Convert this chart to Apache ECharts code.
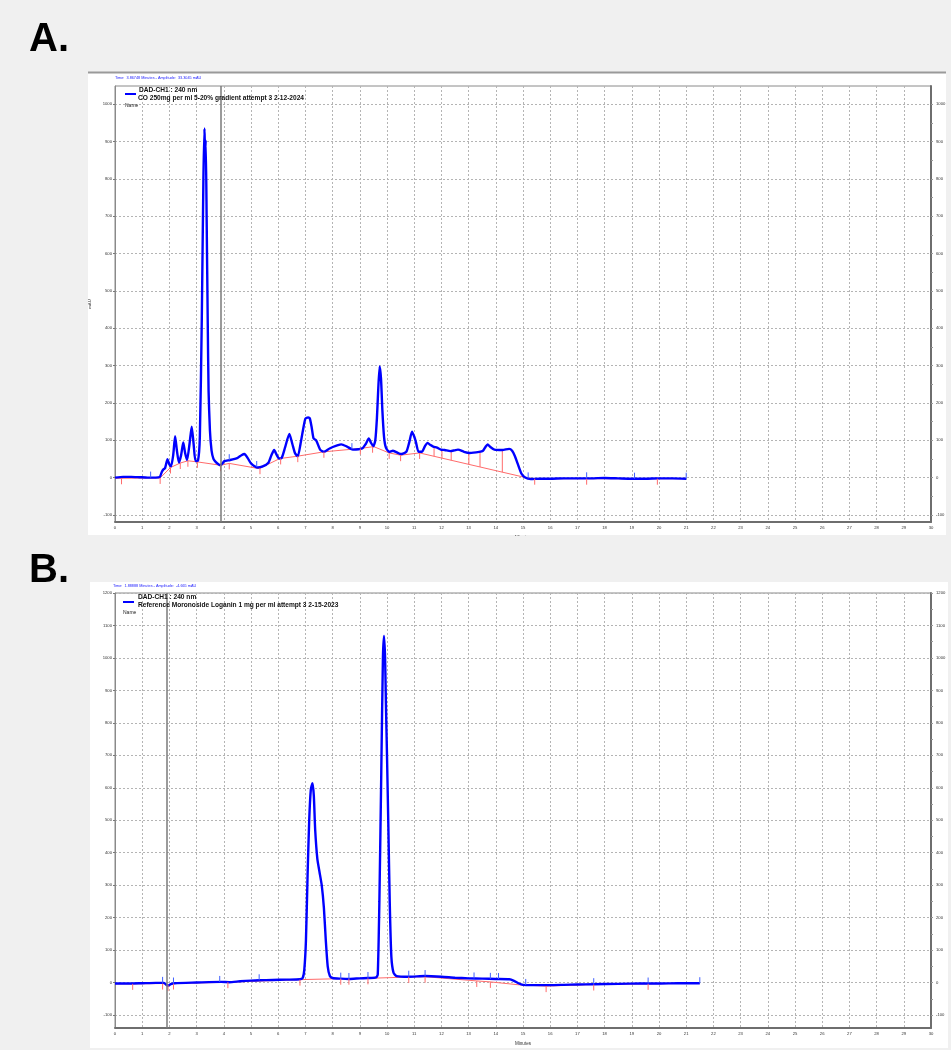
<!DOCTYPE html>
<html><head><meta charset="utf-8">
<script src="https://cdn.jsdelivr.net/npm/echarts@6/dist/echarts.min.js"></script>
<style>html,body{margin:0;padding:0;background:#f0f0f0}#c{width:951px;height:1050px}</style>
</head><body><div id="c"></div>
<script>
// ---------- data ----------
const xTickLabels = [0,1,2,3,4,5,6,7,8,9,10,11,12,13,14,15,16,17,18,19,20,21,22,23,24,25,26,27,28,29,30];
const yTicksA = [-100,0,100,200,300,400,500,600,700,800,900,1000];
const yTicksB = [-100,0,100,200,300,400,500,600,700,800,900,1000,1100,1200];

// Panel A: trace (minutes, mAU)
const aTime = [0,0.3,0.6,0.9,1.2,1.5,1.65,1.72,1.78,1.84,1.93,2.0,2.06,2.14,2.21,2.28,2.35,2.43,2.51,2.58,2.65,2.74,2.82,2.89,2.96,3.05,3.12,3.19,3.25,3.29,3.31,3.335,3.37,3.41,3.44,3.49,3.55,3.62,3.70,3.80,3.88,3.95,4.02,4.23,4.51,4.65,4.76,4.88,5.0,5.24,5.43,5.64,5.75,5.85,5.95,6.03,6.13,6.25,6.41,6.52,6.62,6.72,6.82,6.91,7.0,7.1,7.16,7.23,7.30,7.40,7.54,7.68,7.89,8.17,8.32,8.53,8.74,9.09,9.22,9.33,9.42,9.50,9.57,9.63,9.68,9.73,9.78,9.83,9.89,9.96,10.08,10.22,10.5,10.71,10.82,10.92,11.0,11.06,11.16,11.28,11.40,11.49,11.60,11.70,11.84,11.98,12.12,12.33,12.48,12.61,12.83,13.04,13.39,13.53,13.62,13.70,13.80,13.95,14.24,14.49,14.60,14.70,14.80,14.94,15.08,15.29,15.6,16.0,16.5,17.0,17.5,18.0,18.5,19.0,19.5,20.0,20.5,21.0];
const aMau  = [0,2,2,1,0,0,2,15,22,25,49,35,30,60,111,70,40,60,94,65,47,90,136,90,44,45,110,420,800,935,870,905,690,413,233,126,72,50,42,36,33,38,44,47,53,60,63,52,38,27,30,40,60,74,60,51,53,80,117,90,65,57,90,127,158,161,159,135,105,99,75,69,78,86,89,83,75,78,90,105,92,84,100,160,240,298,265,180,110,80,69,72,63,69,95,123,110,96,69,69,85,93,87,83,80,75,74,71,73,75,69,66,69,72,82,89,82,75,74,77,72,58,38,11,0,-4,-3,-3,-2,-2,-2,-1,-2,-3,-3,-2,-2,-3];
// Panel A: integration baseline
const aBaseTime = [0,1.66,2.04,2.40,2.68,3.03,3.88,4.20,5.30,6.06,6.69,7.68,9.02,9.51,10.08,10.5,11.2,15.1,15.4,21.0];
const aBaseMau  = [-2,-1,27,39,45,42,33,38,24,51,57,69,78,83,66,60,66,0,-3,-3];
const aDropTimes = [11.73,12.02,12.36,13.01,13.42,14.24];
const aRedTicks  = [0.24,1.66,2.04,2.40,2.68,3.03,3.88,4.20,5.33,6.09,6.72,7.68,9.02,9.47,10.08,10.5,11.2,15.43,17.34,19.94];
const aBlueTicks = [1.31,4.20,5.21,8.71,15.19,17.34,19.1,21.0];
const aCursor = 3.86748;

// Panel B: trace
const bTime = [0,0.5,1.0,1.5,1.8,1.9,1.95,2.05,2.2,3.0,3.9,4.2,4.6,5.0,5.3,5.8,6.3,6.8,6.9,6.96,7.02,7.08,7.14,7.20,7.26,7.31,7.36,7.44,7.52,7.60,7.68,7.75,7.82,7.90,8.0,8.3,8.6,9.0,9.3,9.6,9.66,9.72,9.79,9.85,9.89,9.93,9.96,10.0,10.05,10.10,10.16,10.24,10.35,10.8,11.4,12.0,12.5,13.0,13.5,14.0,14.5,14.65,14.85,15.0,15.3,16.0,16.5,17.0,17.6,18.5,19.3,20.0,20.7,21.5];
const bMau  = [-3,-3,-2,-1,-1,-8,-10,-5,-2,0,2,1,4,6,7,8,9,10,14,40,130,330,500,595,614,575,470,380,340,300,230,130,50,20,14,12,11,13,14,16,25,250,650,1000,1068,1000,860,700,480,250,80,30,20,18,20,18,15,13,12,11,10,6,-3,-7,-8,-8,-7,-6,-5,-4,-3,-3,-2,-2];
const bBaseTime = [0,0.65,1.75,1.95,2.15,4.15,6.8,8.3,8.6,9.3,10.8,11.4,13.3,13.8,14.85,15.85,17.6,19.6,21.5];
const bBaseMau  = [-4,-4,-3,-8,-3,1,9,12,12,13,17,18,5,2,-7,-11,-6,-4,-2];
const bRedTicks  = [0.65,1.75,1.95,2.15,4.15,6.8,8.3,8.6,9.3,10.8,11.4,13.3,13.8,15.85,17.6,19.6];
const bBlueTicks = [1.75,2.15,3.85,5.3,8.3,8.6,9.3,10.8,11.4,13.2,13.8,14.1,15.1,17.6,19.6,21.5];
const bCursor = 1.88888;

// ---------- helpers ----------
function zip(a,b){return a.map((v,i)=>[v,b[i]]);}
function interp(ts,vs,t){for(let i=1;i<ts.length;i++){if(t<=ts[i]){const f=(t-ts[i-1])/(ts[i]-ts[i-1]);return vs[i-1]+f*(vs[i]-vs[i-1]);}}return vs[vs.length-1];}
const BLUE='#0000ff', RED='#ff6b6b', GRIDC='#b4b4b4', FONT='Arial, "Liberation Sans", sans-serif';
const plain = v => String(v);

function xAxisDef(gi){
  return {type:'value',gridIndex:gi,min:0,max:30,interval:1,
    name:'Minutes',nameLocation:'middle',nameGap:13,nameTextStyle:{fontSize:4.6,color:'#333',fontFamily:FONT},
    axisLine:{show:true,onZero:false,lineStyle:{color:'#6e6e6e',width:2}},axisTick:{show:false},
    axisLabel:{fontSize:4.2,color:'#333',margin:4,interval:0,fontFamily:FONT,formatter:plain,customValues:xTickLabels},
    splitLine:{show:true,lineStyle:{color:GRIDC,type:[2,2],width:1}}};
}
function yAxesDef(gi,min,max,ticks,name){
  const half=[];for(let v=ticks[0];v<=ticks[ticks.length-1];v+=50)half.push(v);
  return [
    {type:'value',gridIndex:gi,min:min,max:max,position:'left',
     name:name,nameLocation:'middle',nameGap:21,nameTextStyle:{fontSize:4.2,color:'#333',fontFamily:FONT},
     axisLine:{show:true,onZero:false,lineStyle:{color:'#8a8a8a',width:1}},
     axisTick:{show:true,length:2,customValues:ticks,lineStyle:{color:'#777'}},
     axisLabel:{fontSize:4.2,color:'#333',margin:3,fontFamily:FONT,formatter:plain,customValues:ticks},
     splitLine:{show:true,lineStyle:{color:GRIDC,type:[2,2],width:1}}},
    {type:'value',gridIndex:gi,min:min,max:max,position:'right',
     axisLine:{show:true,onZero:false,lineStyle:{color:'#6e6e6e',width:2}},
     axisTick:{show:true,length:2,customValues:half,lineStyle:{color:'#999'}},
     axisLabel:{fontSize:4.2,color:'#333',margin:5,fontFamily:FONT,formatter:plain,customValues:ticks},
     splitLine:{show:false}}
  ];
}
function tickSeries(xi,yi,data,color,dir){
  return {type:'custom',xAxisIndex:xi,yAxisIndex:yi,z:4,silent:true,data:data,encode:{x:0,y:1},
    renderItem:function(p,api){const c=api.coord([api.value(0),api.value(1)]);
      return {type:'line',shape:{x1:c[0],y1:c[1],x2:c[0],y2:c[1]+dir*6},style:{stroke:color,lineWidth:1}};}};
}
function dropSeries(xi,yi,data){
  return {type:'custom',xAxisIndex:xi,yAxisIndex:yi,z:2,silent:true,data:data,encode:{x:0,y:[1,2]},
    renderItem:function(p,api){const a=api.coord([api.value(0),api.value(1)]),b=api.coord([api.value(0),api.value(2)]);
      return {type:'line',shape:{x1:a[0],y1:a[1],x2:b[0],y2:b[1]},style:{stroke:RED,lineWidth:1}};}};
}
function traceSeries(xi,yi,data,cursor){
  return {type:'line',xAxisIndex:xi,yAxisIndex:yi,data:data,showSymbol:false,smooth:0.2,z:3,
    lineStyle:{color:BLUE,width:2.4},itemStyle:{color:BLUE},
    markLine:{silent:true,symbol:'none',label:{show:false},lineStyle:{color:'#7a7a7a',type:'solid',width:1.5},data:[{xAxis:cursor}]}};
}
function baseSeries(xi,yi,data){
  return {type:'line',xAxisIndex:xi,yAxisIndex:yi,data:data,showSymbol:false,z:2,lineStyle:{color:RED,width:1},itemStyle:{color:RED}};
}

const chart = echarts.init(document.getElementById('c'),null,{renderer:'canvas'});
chart.setOption({
  backgroundColor:'#f0f0f0',
  animation:false,
  grid:[
    {left:115,top:86,width:816,height:436,show:true,borderColor:'#8a8a8a',borderWidth:1,backgroundColor:'#ffffff'},
    {left:115,top:593,width:816,height:435,show:true,borderColor:'#8a8a8a',borderWidth:1,backgroundColor:'#ffffff'}
  ],
  xAxis:[xAxisDef(0),xAxisDef(1)],
  yAxis:[].concat(yAxesDef(0,-119,1049,yTicksA,'mAU'),yAxesDef(1,-140,1200,yTicksB,'')),
  graphic:[
    {type:'rect',z:-10,shape:{x:88,y:72,width:858,height:463},style:{fill:'#ffffff'}},
    {type:'line',z:-9,shape:{x1:88,y1:72.5,x2:946,y2:72.5},style:{stroke:'#9a9a9a',lineWidth:2}},
    {type:'rect',z:-10,shape:{x:90,y:582,width:858,height:466},style:{fill:'#ffffff'}},
    {type:'rect',z:100,shape:{x:88,y:536,width:860,height:8},style:{fill:'#f0f0f0'}},
    {type:'text',z:100,x:29,y:60,style:{text:'A.',font:'bold 40px Arial, "Liberation Sans"',fill:'#000',textVerticalAlign:'bottom'}},
    {type:'text',z:100,x:29,y:591,style:{text:'B.',font:'bold 40px Arial, "Liberation Sans"',fill:'#000',textVerticalAlign:'bottom'}},
    {type:'text',z:100,x:115,y:78,style:{text:'Time:  3.86748 Minutes - Amplitude:  33.3045 mAU',font:'3.8px Arial, "Liberation Sans"',fill:'#2020ff',textVerticalAlign:'middle'}},
    {type:'line',z:100,shape:{x1:125,y1:94,x2:136,y2:94},style:{stroke:BLUE,lineWidth:2}},
    {type:'text',z:100,x:139,y:90,style:{text:'DAD-CH1 : 240 nm',font:'bold 6.6px Arial, "Liberation Sans"',fill:'#111',textVerticalAlign:'middle'}},
    {type:'text',z:100,x:138,y:98.3,style:{text:'CO 250mg per ml 5-20% gradient attempt 3 2-12-2024',font:'bold 6.6px Arial, "Liberation Sans"',fill:'#111',textVerticalAlign:'middle'}},
    {type:'text',z:100,x:125,y:106,style:{text:'Name',font:'5px Arial, "Liberation Sans"',fill:'#222',textVerticalAlign:'middle'}},
    {type:'text',z:100,x:113,y:585.5,style:{text:'Time:  1.88888 Minutes - Amplitude:  -4.665 mAU',font:'3.8px Arial, "Liberation Sans"',fill:'#2020ff',textVerticalAlign:'middle'}},
    {type:'line',z:100,shape:{x1:123,y1:602,x2:134,y2:602},style:{stroke:BLUE,lineWidth:2}},
    {type:'text',z:100,x:138,y:597.3,style:{text:'DAD-CH1 : 240 nm',font:'bold 6.6px Arial, "Liberation Sans"',fill:'#111',textVerticalAlign:'middle'}},
    {type:'text',z:100,x:138,y:605,style:{text:'Reference Moronoside Loganin 1 mg per ml attempt 3 2-15-2023',font:'bold 6.6px Arial, "Liberation Sans"',fill:'#111',textVerticalAlign:'middle'}},
    {type:'text',z:100,x:123,y:613,style:{text:'Name',font:'5px Arial, "Liberation Sans"',fill:'#222',textVerticalAlign:'middle'}}
  ],
  series:[
    baseSeries(0,0,zip(aBaseTime,aBaseMau)),
    dropSeries(0,0,aDropTimes.map(t=>[t,interp(aBaseTime,aBaseMau,t),interp(aTime,aMau,t)])),
    traceSeries(0,0,zip(aTime,aMau),aCursor),
    tickSeries(0,0,aRedTicks.map(t=>[t,interp(aBaseTime,aBaseMau,t)]),RED,1),
    tickSeries(0,0,aBlueTicks.map(t=>[t,interp(aTime,aMau,t)]),'#4060ff',-1),
    baseSeries(1,2,zip(bBaseTime,bBaseMau)),
    traceSeries(1,2,zip(bTime,bMau),bCursor),
    tickSeries(1,2,bRedTicks.map(t=>[t,interp(bBaseTime,bBaseMau,t)]),RED,1),
    tickSeries(1,2,bBlueTicks.map(t=>[t,interp(bTime,bMau,t)]),'#4060ff',-1)
  ]
});
</script></body></html>
